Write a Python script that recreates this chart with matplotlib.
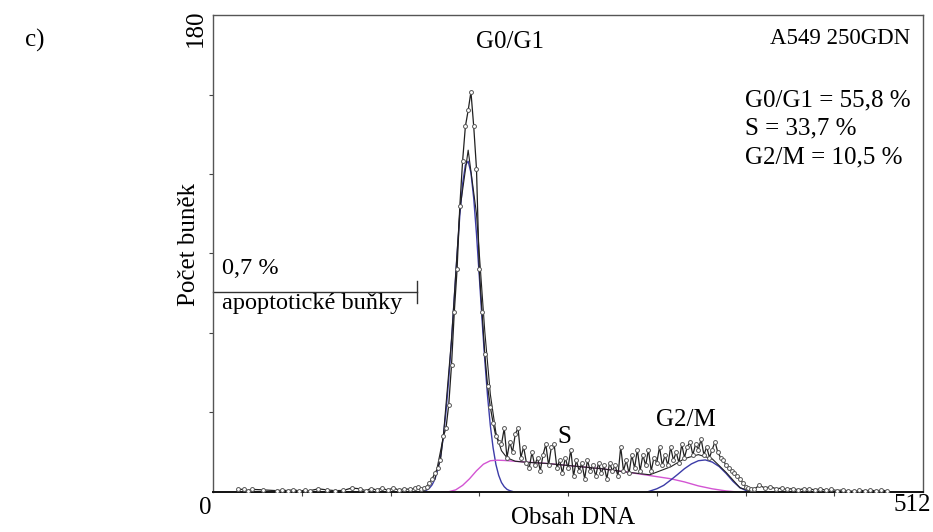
import numpy as np
import matplotlib
matplotlib.use("Agg")
from matplotlib import pyplot as plt

plt.rcParams['font.family'] = ['Liberation Serif', 'DejaVu Serif']

# histogram counts (channel -> number of cells)
base_left_ch = [18, 22, 25, 28, 36, 46, 50, 54, 58, 62, 66, 70, 76, 82, 88,
                94, 100, 106, 110, 114, 118, 122, 126, 130, 134, 138, 142, 146, 148]
base_left_cnt = [1, 1, 0.5, 1, 0.8, 0.5, 0.7, 0.5, 0.9, 0.4, 0.6, 0.5, 1.2, 0.8, 0.5,
                 0.6, 1.5, 1.2, 0.5, 1.3, 0.8, 1.5, 0.6, 1.6, 0.7, 1.2, 1.0, 1.5, 2.0]

main_ch = list(range(150, 392, 2))
main_cnt = [1, 1.5, 2, 3.5, 5, 7, 9, 12, 21, 24,              # 150-168
            33, 48, 68, 84, 108, 125, 138, 144, 151, 138,      # 170-188
            122, 84, 68, 52, 40, 32, 26, 21, 19, 18,           # 190-208
            24, 13, 19, 15, 22, 24, 13, 17, 11, 9,             # 210-228
            15, 10, 13, 8, 14, 18, 10, 17, 18, 9,              # 230-248
            12, 7, 13, 9, 16, 6, 12, 8, 11, 5,                 # 250-268
            12, 8, 10, 6, 11, 7, 10, 5, 11, 8,                 # 270-288
            10, 6, 17, 8, 12, 7, 14, 9, 16, 8,                 # 290-308
            14, 10, 16, 8, 13, 11, 17, 10, 14, 10,             # 310-328
            17, 12, 15, 11, 18, 13, 17, 19, 14, 18,            # 330-348
            16, 20, 14, 17, 13, 16, 19, 15, 13, 12,            # 350-368
            10, 9, 8, 7, 6, 5, 3.5, 2, 1.5, 1.2,               # 370-388
            1]                                                 # 390

base_right_ch = [394, 398, 402, 406, 410, 414, 418, 422, 426, 430, 434, 438,
                 442, 446, 450, 454, 458, 462, 466, 470, 474, 478, 482, 486]
base_right_cnt = [2.5, 1.5, 2, 1.2, 1.5, 1, 1.3, 0.8, 1.2, 1, 0.9, 1.1,
                  0.7, 1, 0.5, 0.8, 0.4, 0.3, 0.6, 0.5, 0.6, 0.5, 0.6, 0.5]

# fitted components
g1_ch = list(range(150, 218, 2))
g1_fit = [0.2, 0.4, 0.7, 1.4, 2.7, 4.8, 8.2, 13.2, 20.5, 30.3,
          42.7, 57.3, 73.4, 89.7, 104.5, 116.3, 123.4, 124.8, 120.5, 110.9,
          97.4, 81.6, 65.2, 49.7, 36.1, 25.0, 16.6, 10.4, 6.3, 3.6,
          2.0, 1.0, 0.5, 0.2]

s_ch = [165, 170, 175, 180, 185, 190, 195, 200, 205, 210, 220, 240, 260,
        280, 300, 315, 330, 340, 350, 360, 370, 378]
s_fit = [0, 0.1, 0.8, 2.5, 5, 8, 10.5, 11.8, 12.0, 11.9, 11.5, 10.8, 9.8,
         8.8, 7.4, 6.2, 5.0, 3.8, 2.3, 1.2, 0.4, 0]

g2_ch = [313, 320, 325, 330, 335, 340, 345, 350, 355, 360, 365, 370, 375, 380, 385, 388]
g2_fit = [0, 1.2, 2.5, 4.5, 6.6, 8.8, 10.6, 11.8, 12.1, 11.3, 9.6, 7.0, 4.0, 1.6, 0.4, 0]

tot_ch = [160, 166, 172, 178, 184, 190, 196, 200, 204, 208, 212, 218, 226, 240,
          260, 280, 300, 315, 330, 340, 350, 360, 370, 380, 390]
tot_fit = [4.8, 20.5, 57.6, 106.5, 129, 105, 60.5, 36.8, 22.4, 15.6, 12.9, 11.6,
           11.2, 10.8, 9.8, 8.8, 7.4, 6.5, 9.5, 12.6, 14.1, 12.5, 7.4, 1.6, 0]

fig = plt.figure(figsize=(9.33, 5.32), dpi=100)
ax = fig.add_axes([0.2283, 0.0752, 0.7610, 0.8966])

ax.plot(g1_ch, g1_fit, color='#3c3ca8', lw=1.0, zorder=2)
ax.plot(s_ch, s_fit, color='#d355d3', lw=1.0, zorder=2)
ax.plot(g2_ch, g2_fit, color='#3c3ca8', lw=1.0, zorder=2)
ax.plot(tot_ch, tot_fit, color='#222222', lw=0.8, zorder=2)

ch = base_left_ch + main_ch + base_right_ch
cnt = base_left_cnt + main_cnt + base_right_cnt
ax.plot(ch, cnt, color='#202020', lw=0.9, marker='o', ms=2.8,
        mfc='white', mec='#555555', mew=0.7, zorder=3)

ax.set_xlim(0, 512)
ax.set_ylim(0, 180)
ax.set_xticks([64, 128, 192, 256, 320, 384, 448])
ax.set_yticks([30, 60, 90, 120, 150])
ax.set_xticklabels([])
ax.set_yticklabels([])
ax.tick_params(direction='out', length=3, width=0.8, colors='#444444')
for s in ax.spines.values():
    s.set_color('#555555')
    s.set_linewidth(1.0)
ax.spines['bottom'].set_color('#111111')
ax.spines['bottom'].set_linewidth(1.4)

# axis end labels
fig.text(196 / 933, 1 - 28 / 532, '180', rotation=90, fontsize=18,
         ha='center', va='center')
fig.text(205 / 933, 1 - 508 / 532, '0', fontsize=18, ha='center', va='center')
fig.text(912 / 933, 1 - 505 / 532, '512', fontsize=18, ha='center', va='center')
fig.text(573 / 933, 1 - 518 / 532, 'Obsah DNA', fontsize=18, ha='center', va='center')
fig.text(189 / 933, 1 - 245 / 532, 'Počet buněk', rotation=90, fontsize=18,
         ha='center', va='center')
fig.text(35 / 933, 1 - 40 / 532, 'c)', fontsize=18, ha='center', va='center')

# annotations
fig.text(510 / 933, 1 - 42 / 532, 'G0/G1', fontsize=18, ha='center', va='center')
fig.text(564 / 933, 1 - 437 / 532, 'S', fontsize=18, ha='center', va='center')
fig.text(686 / 933, 1 - 420 / 532, 'G2/M', fontsize=18, ha='center', va='center')
fig.text(910 / 933, 1 - 38 / 532, 'A549 250GDN', fontsize=16.5, ha='right', va='center')
fig.text(745 / 933, 1 - 100 / 532, 'G0/G1 = 55,8 %', fontsize=18, ha='left', va='center')
fig.text(745 / 933, 1 - 128 / 532, 'S = 33,7 %', fontsize=18, ha='left', va='center')
fig.text(745 / 933, 1 - 157 / 532, 'G2/M = 10,5 %', fontsize=18, ha='left', va='center')

# apoptotic marker
ax.plot([0, 147], [75.5, 75.5], color='#333333', lw=1.0, clip_on=False)
ax.plot([147, 147], [71.5, 79.5], color='#333333', lw=1.0, clip_on=False)
fig.text(222 / 933, 1 - 268 / 532, '0,7 %', fontsize=17.5, ha='left', va='center')
fig.text(222 / 933, 1 - 304 / 532, 'apoptotické buňky', fontsize=17.5, ha='left', va='center')

fig.savefig('out.png', dpi=100)
